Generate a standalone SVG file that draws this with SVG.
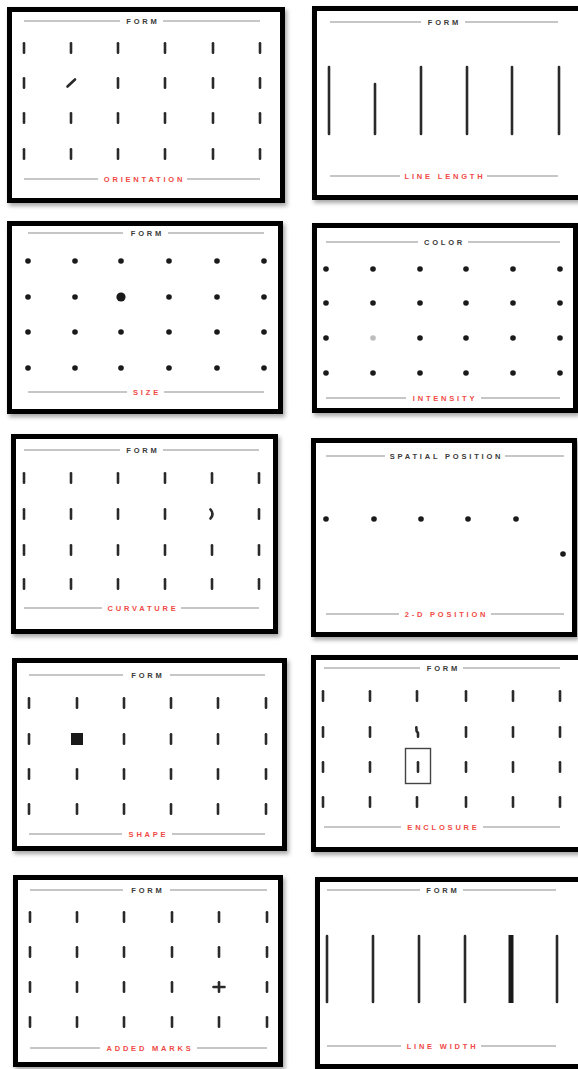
<svg xmlns="http://www.w3.org/2000/svg" xmlns:xlink="http://www.w3.org/1999/xlink" width="578" height="1069" viewBox="0 0 578 1069">
<style>
.frame{fill:#fff;stroke:#000;stroke-width:5;filter:url(#sh)}
.rule{stroke:#b3b3b3;stroke-width:1.5}
.ttl{font-family:"Liberation Sans",Arial,sans-serif;font-size:7.5px;font-weight:bold;letter-spacing:2.8px;fill:#3a3a3a;text-anchor:middle}
.lbl{font-family:"Liberation Sans",Arial,sans-serif;font-size:7.5px;font-weight:bold;letter-spacing:2.8px;fill:#f04a45;text-anchor:middle}
.tk{stroke:#2a2a2a;stroke-width:2.6;stroke-linecap:round}
.ln{stroke:#2a2a2a;stroke-width:2.6;stroke-linecap:round}
.dot{fill:#1a1a1a}
</style>
<defs>
<filter id="sh" x="-5%" y="-5%" width="112%" height="115%">
<feDropShadow dx="2" dy="3" stdDeviation="2" flood-color="#000" flood-opacity="0.35"/>
</filter>
<line id="t" class="tk" x1="0" y1="-4.8" x2="0" y2="4.8"/>
<circle id="d" class="dot" r="2.8"/>
</defs>
<rect width="578" height="1069" fill="#fff"/>

<g id="orientation">
<rect class="frame" x="9.5" y="9.5" width="273" height="191"/>
<line class="rule" x1="24" y1="21" x2="120" y2="21"/><line class="rule" x1="163" y1="21" x2="260" y2="21"/>
<text class="ttl" x="143" y="23.7">FORM</text>
<g>
<use xlink:href="#t" x="24" y="48"/><use xlink:href="#t" x="71" y="48"/><use xlink:href="#t" x="118" y="48"/><use xlink:href="#t" x="165" y="48"/><use xlink:href="#t" x="213" y="48"/><use xlink:href="#t" x="260" y="48"/>
<use xlink:href="#t" x="24" y="83"/><line class="tk" x1="67.5" y1="86.5" x2="75" y2="79.5"/><use xlink:href="#t" x="118" y="83"/><use xlink:href="#t" x="165" y="83"/><use xlink:href="#t" x="213" y="83"/><use xlink:href="#t" x="260" y="83"/>
<use xlink:href="#t" x="24" y="118"/><use xlink:href="#t" x="71" y="118"/><use xlink:href="#t" x="118" y="118"/><use xlink:href="#t" x="165" y="118"/><use xlink:href="#t" x="213" y="118"/><use xlink:href="#t" x="260" y="118"/>
<use xlink:href="#t" x="24" y="154"/><use xlink:href="#t" x="71" y="154"/><use xlink:href="#t" x="118" y="154"/><use xlink:href="#t" x="165" y="154"/><use xlink:href="#t" x="213" y="154"/><use xlink:href="#t" x="260" y="154"/>
</g>
<line class="rule" x1="24" y1="179" x2="98" y2="179"/><line class="rule" x1="187" y1="179" x2="260" y2="179"/>
<text class="lbl" x="144.5" y="181.7">ORIENTATION</text>
</g>

<g id="line-length">
<rect class="frame" x="314.5" y="8.5" width="270" height="189"/>
<line class="rule" x1="330" y1="22" x2="421" y2="22"/><line class="rule" x1="465" y1="22" x2="558" y2="22"/>
<text class="ttl" x="444.5" y="24.7">FORM</text>
<line class="ln" x1="329" y1="67" x2="329" y2="134"/>
<line class="ln" x1="375" y1="84" x2="375" y2="134"/>
<line class="ln" x1="421" y1="67" x2="421" y2="134"/>
<line class="ln" x1="467" y1="67" x2="467" y2="134"/>
<line class="ln" x1="512" y1="67" x2="512" y2="134"/>
<line class="ln" x1="559" y1="67" x2="559" y2="134"/>
<line class="rule" x1="330" y1="176" x2="400" y2="176"/><line class="rule" x1="487" y1="176" x2="558" y2="176"/>
<text class="lbl" x="445" y="178.7">LINE LENGTH</text>
</g>

<g id="size">
<rect class="frame" x="9.5" y="223.5" width="271" height="188"/>
<line class="rule" x1="28" y1="233" x2="123" y2="233"/><line class="rule" x1="168" y1="233" x2="264" y2="233"/>
<text class="ttl" x="147.5" y="235.7">FORM</text>
<g>
<use xlink:href="#d" x="28" y="261"/><use xlink:href="#d" x="75" y="261"/><use xlink:href="#d" x="121" y="261"/><use xlink:href="#d" x="169" y="261"/><use xlink:href="#d" x="217" y="261"/><use xlink:href="#d" x="264" y="261"/>
<use xlink:href="#d" x="28" y="297"/><use xlink:href="#d" x="75" y="297"/><circle class="dot" cx="121" cy="297" r="4.6"/><use xlink:href="#d" x="169" y="297"/><use xlink:href="#d" x="217" y="297"/><use xlink:href="#d" x="264" y="297"/>
<use xlink:href="#d" x="28" y="332"/><use xlink:href="#d" x="75" y="332"/><use xlink:href="#d" x="121" y="332"/><use xlink:href="#d" x="169" y="332"/><use xlink:href="#d" x="217" y="332"/><use xlink:href="#d" x="264" y="332"/>
<use xlink:href="#d" x="28" y="368"/><use xlink:href="#d" x="75" y="368"/><use xlink:href="#d" x="121" y="368"/><use xlink:href="#d" x="169" y="368"/><use xlink:href="#d" x="217" y="368"/><use xlink:href="#d" x="264" y="368"/>
</g>
<line class="rule" x1="28" y1="392" x2="127" y2="392"/><line class="rule" x1="164" y1="392" x2="264" y2="392"/>
<text class="lbl" x="147" y="394.7">SIZE</text>
</g>

<g id="intensity">
<rect class="frame" x="314.5" y="225.5" width="261" height="185"/>
<line class="rule" x1="326" y1="242" x2="418" y2="242"/><line class="rule" x1="468" y1="242" x2="560" y2="242"/>
<text class="ttl" x="444.5" y="244.7">COLOR</text>
<g>
<use xlink:href="#d" x="326" y="269"/><use xlink:href="#d" x="373" y="269"/><use xlink:href="#d" x="420" y="269"/><use xlink:href="#d" x="466" y="269"/><use xlink:href="#d" x="513" y="269"/><use xlink:href="#d" x="560" y="269"/>
<use xlink:href="#d" x="326" y="303"/><use xlink:href="#d" x="373" y="303"/><use xlink:href="#d" x="420" y="303"/><use xlink:href="#d" x="466" y="303"/><use xlink:href="#d" x="513" y="303"/><use xlink:href="#d" x="560" y="303"/>
<use xlink:href="#d" x="326" y="338"/><circle cx="373" cy="338" r="2.8" fill="#bdbdbd"/><use xlink:href="#d" x="420" y="338"/><use xlink:href="#d" x="466" y="338"/><use xlink:href="#d" x="513" y="338"/><use xlink:href="#d" x="560" y="338"/>
<use xlink:href="#d" x="326" y="373"/><use xlink:href="#d" x="373" y="373"/><use xlink:href="#d" x="420" y="373"/><use xlink:href="#d" x="466" y="373"/><use xlink:href="#d" x="513" y="373"/><use xlink:href="#d" x="560" y="373"/>
</g>
<line class="rule" x1="326" y1="398" x2="406" y2="398"/><line class="rule" x1="481" y1="398" x2="560" y2="398"/>
<text class="lbl" x="445" y="400.7">INTENSITY</text>
</g>

<g id="curvature">
<rect class="frame" x="13.5" y="436.5" width="262" height="195"/>
<line class="rule" x1="24" y1="450" x2="120" y2="450"/><line class="rule" x1="163" y1="450" x2="259" y2="450"/>
<text class="ttl" x="143" y="452.7">FORM</text>
<g>
<use xlink:href="#t" x="24" y="478"/><use xlink:href="#t" x="71" y="478"/><use xlink:href="#t" x="118" y="478"/><use xlink:href="#t" x="165" y="478"/><use xlink:href="#t" x="212" y="478"/><use xlink:href="#t" x="259" y="478"/>
<use xlink:href="#t" x="24" y="514"/><use xlink:href="#t" x="71" y="514"/><use xlink:href="#t" x="118" y="514"/><use xlink:href="#t" x="165" y="514"/><path d="M210.5 509.5 Q214.5 514 210.5 518.5" fill="none" class="tk"/><use xlink:href="#t" x="259" y="514"/>
<use xlink:href="#t" x="24" y="550"/><use xlink:href="#t" x="71" y="550"/><use xlink:href="#t" x="118" y="550"/><use xlink:href="#t" x="165" y="550"/><use xlink:href="#t" x="212" y="550"/><use xlink:href="#t" x="259" y="550"/>
<use xlink:href="#t" x="24" y="584"/><use xlink:href="#t" x="71" y="584"/><use xlink:href="#t" x="118" y="584"/><use xlink:href="#t" x="165" y="584"/><use xlink:href="#t" x="212" y="584"/><use xlink:href="#t" x="259" y="584"/>
</g>
<line class="rule" x1="24" y1="608" x2="102" y2="608"/><line class="rule" x1="181" y1="608" x2="259" y2="608"/>
<text class="lbl" x="143" y="610.7">CURVATURE</text>
</g>

<g id="position">
<rect class="frame" x="313.5" y="440.5" width="261" height="194"/>
<line class="rule" x1="326" y1="456" x2="385" y2="456"/><line class="rule" x1="505" y1="456" x2="564" y2="456"/>
<text class="ttl" x="446.5" y="458.7">SPATIAL POSITION</text>
<use xlink:href="#d" x="326" y="519"/><use xlink:href="#d" x="374" y="519"/><use xlink:href="#d" x="421" y="519"/><use xlink:href="#d" x="468" y="519"/><use xlink:href="#d" x="516" y="519"/><use xlink:href="#d" x="563" y="554"/>
<line class="rule" x1="326" y1="614" x2="399" y2="614"/><line class="rule" x1="491" y1="614" x2="564" y2="614"/>
<text class="lbl" x="446.5" y="616.7">2-D POSITION</text>
</g>

<g id="shape">
<rect class="frame" x="14.5" y="660.5" width="270" height="188"/>
<line class="rule" x1="29" y1="675" x2="123" y2="675"/><line class="rule" x1="170" y1="675" x2="265" y2="675"/>
<text class="ttl" x="148" y="677.7">FORM</text>
<g>
<use xlink:href="#t" x="29" y="703"/><use xlink:href="#t" x="77" y="703"/><use xlink:href="#t" x="124" y="703"/><use xlink:href="#t" x="171" y="703"/><use xlink:href="#t" x="218" y="703"/><use xlink:href="#t" x="266" y="703"/>
<use xlink:href="#t" x="29" y="739"/><rect x="71" y="733" width="12" height="12" fill="#1a1a1a"/><use xlink:href="#t" x="124" y="739"/><use xlink:href="#t" x="171" y="739"/><use xlink:href="#t" x="218" y="739"/><use xlink:href="#t" x="266" y="739"/>
<use xlink:href="#t" x="29" y="774"/><use xlink:href="#t" x="77" y="774"/><use xlink:href="#t" x="124" y="774"/><use xlink:href="#t" x="171" y="774"/><use xlink:href="#t" x="218" y="774"/><use xlink:href="#t" x="266" y="774"/>
<use xlink:href="#t" x="29" y="809"/><use xlink:href="#t" x="77" y="809"/><use xlink:href="#t" x="124" y="809"/><use xlink:href="#t" x="171" y="809"/><use xlink:href="#t" x="218" y="809"/><use xlink:href="#t" x="266" y="809"/>
</g>
<line class="rule" x1="29" y1="834" x2="122" y2="834"/><line class="rule" x1="172" y1="834" x2="265" y2="834"/>
<text class="lbl" x="148.5" y="836.7">SHAPE</text>
</g>

<g id="enclosure">
<rect class="frame" x="313.5" y="657.5" width="270" height="192"/>
<line class="rule" x1="324" y1="668" x2="420" y2="668"/><line class="rule" x1="463" y1="668" x2="560" y2="668"/>
<text class="ttl" x="443.5" y="670.7">FORM</text>
<g>
<use xlink:href="#t" x="323" y="696"/><use xlink:href="#t" x="370" y="696"/><use xlink:href="#t" x="417" y="696"/><use xlink:href="#t" x="466" y="696"/><use xlink:href="#t" x="513" y="696"/><use xlink:href="#t" x="560" y="696"/>
<use xlink:href="#t" x="323" y="732"/><use xlink:href="#t" x="370" y="732"/><polyline class="tk" fill="none" points="416.3,727.2 416.6,731 418,733 418,736.8"/><use xlink:href="#t" x="466" y="732"/><use xlink:href="#t" x="513" y="732"/><use xlink:href="#t" x="560" y="732"/>
<use xlink:href="#t" x="323" y="767"/><use xlink:href="#t" x="370" y="767"/><use xlink:href="#t" x="418" y="767"/><use xlink:href="#t" x="466" y="767"/><use xlink:href="#t" x="513" y="767"/><use xlink:href="#t" x="560" y="767"/>
<use xlink:href="#t" x="323" y="802"/><use xlink:href="#t" x="370" y="802"/><use xlink:href="#t" x="417" y="802"/><use xlink:href="#t" x="466" y="802"/><use xlink:href="#t" x="513" y="802"/><use xlink:href="#t" x="560" y="802"/>
</g>
<rect x="405.5" y="748.5" width="25" height="35" fill="none" stroke="#444" stroke-width="1.4"/>
<line class="rule" x1="324" y1="827" x2="401" y2="827"/><line class="rule" x1="483" y1="827" x2="560" y2="827"/>
<text class="lbl" x="443.5" y="829.7">ENCLOSURE</text>
</g>

<g id="added-marks">
<rect class="frame" x="15.5" y="877.5" width="265" height="187"/>
<line class="rule" x1="30" y1="890" x2="123" y2="890"/><line class="rule" x1="170" y1="890" x2="267" y2="890"/>
<text class="ttl" x="148" y="892.7">FORM</text>
<g>
<use xlink:href="#t" x="30" y="917"/><use xlink:href="#t" x="77" y="917"/><use xlink:href="#t" x="124" y="917"/><use xlink:href="#t" x="172" y="917"/><use xlink:href="#t" x="219" y="917"/><use xlink:href="#t" x="267" y="917"/>
<use xlink:href="#t" x="30" y="952"/><use xlink:href="#t" x="77" y="952"/><use xlink:href="#t" x="124" y="952"/><use xlink:href="#t" x="172" y="952"/><use xlink:href="#t" x="219" y="952"/><use xlink:href="#t" x="267" y="952"/>
<use xlink:href="#t" x="30" y="987"/><use xlink:href="#t" x="77" y="987"/><use xlink:href="#t" x="124" y="987"/><use xlink:href="#t" x="172" y="987"/><use xlink:href="#t" x="219" y="987"/><line class="tk" x1="213.5" y1="987" x2="224.5" y2="987"/><use xlink:href="#t" x="267" y="987"/>
<use xlink:href="#t" x="30" y="1022"/><use xlink:href="#t" x="77" y="1022"/><use xlink:href="#t" x="124" y="1022"/><use xlink:href="#t" x="172" y="1022"/><use xlink:href="#t" x="219" y="1022"/><use xlink:href="#t" x="267" y="1022"/>
</g>
<line class="rule" x1="30" y1="1048" x2="100" y2="1048"/><line class="rule" x1="197" y1="1048" x2="267" y2="1048"/>
<text class="lbl" x="150" y="1050.7">ADDED MARKS</text>
</g>

<g id="line-width">
<rect class="frame" x="317.5" y="879.5" width="270" height="187"/>
<line class="rule" x1="327" y1="890" x2="420" y2="890"/><line class="rule" x1="463" y1="890" x2="556" y2="890"/>
<text class="ttl" x="443" y="892.7">FORM</text>
<line class="ln" x1="327" y1="936" x2="327" y2="1002"/>
<line class="ln" x1="373" y1="936" x2="373" y2="1002"/>
<line class="ln" x1="419" y1="936" x2="419" y2="1002"/>
<line class="ln" x1="465" y1="936" x2="465" y2="1002"/>
<line x1="511" y1="935" x2="511" y2="1003" stroke="#1a1a1a" stroke-width="5"/>
<line class="ln" x1="557" y1="936" x2="557" y2="1002"/>
<line class="rule" x1="327" y1="1046" x2="401" y2="1046"/><line class="rule" x1="481" y1="1046" x2="556" y2="1046"/>
<text class="lbl" x="442.5" y="1048.7">LINE WIDTH</text>
</g>
</svg>
